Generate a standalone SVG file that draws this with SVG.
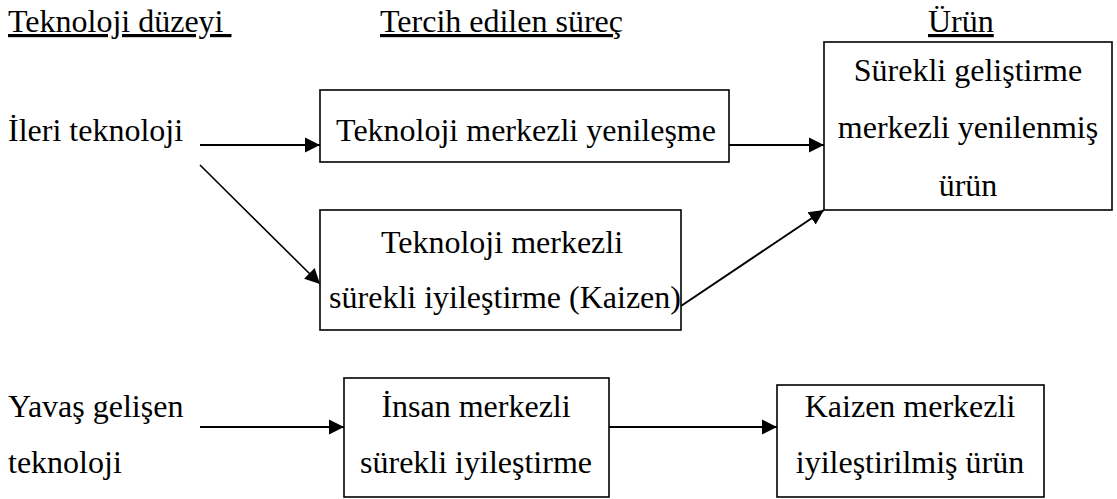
<svg xmlns="http://www.w3.org/2000/svg" width="1117" height="499" viewBox="0 0 1117 499">
<style>
text{font-family:"Liberation Serif","Times New Roman",serif;font-size:32px;fill:#000}
.c{text-anchor:middle}
.u{text-decoration:underline;white-space:pre}
.box{fill:#fff;stroke:#000;stroke-width:1.6}
.arr{stroke:#000;stroke-width:2;fill:none;marker-end:url(#ah)}
.thin{stroke-width:1.6}
</style>
<defs>
<marker id="ah" markerUnits="userSpaceOnUse" markerWidth="16" markerHeight="16" viewBox="0 0 16 15" refX="15" refY="7.5" orient="auto">
<path d="M0,0 L15,7.5 L0,15 Z" fill="#000"/>
</marker>
</defs>
<rect width="1117" height="499" fill="#fff"/>
<g id="headers">
<text class="u" x="8" y="32" xml:space="preserve">Teknoloji düzeyi </text>
<text class="u" x="380" y="32">Tercih edilen süreç</text>
<text class="u" x="928" y="32">Ürün</text>
</g>
<g id="ileri">
<text x="8" y="141">İleri teknoloji</text>
</g>
<g id="yavas">
<text x="8" y="417">Yavaş gelişen</text>
<text x="8" y="473">teknoloji</text>
</g>
<g id="box1">
<rect class="box" x="320" y="90" width="409" height="72"/>
<text class="c" x="526" y="141">Teknoloji merkezli yenileşme</text>
</g>
<g id="box2">
<rect class="box" x="320" y="210" width="361" height="120"/>
<text class="c" x="502" y="253">Teknoloji merkezli</text>
<text class="c" x="505" y="308">sürekli iyileştirme (Kaizen)</text>
</g>
<g id="product">
<rect class="box" x="824" y="42" width="288" height="168"/>
<text class="c" x="968" y="81">Sürekli geliştirme</text>
<text class="c" x="968" y="138">merkezli yenilenmiş</text>
<text class="c" x="968" y="196">ürün</text>
</g>
<g id="box3">
<rect class="box" x="344" y="378" width="265" height="119"/>
<text class="c" x="476" y="417">İnsan merkezli</text>
<text class="c" x="476" y="473">sürekli iyileştirme</text>
</g>
<g id="box4">
<rect class="box" x="777" y="385" width="267" height="112"/>
<text class="c" x="910" y="417">Kaizen merkezli</text>
<text class="c" x="910" y="473">iyileştirilmiş ürün</text>
</g>
<g id="connectors">
<line class="arr" x1="200" y1="145" x2="320" y2="145"/>
<line class="arr thin" x1="200" y1="165" x2="320" y2="284"/>
<line class="arr" x1="729" y1="145" x2="824" y2="145"/>
<line class="arr" x1="681" y1="306" x2="824" y2="210"/>
<line class="arr" x1="200" y1="427" x2="344" y2="427"/>
<line class="arr" x1="609" y1="427" x2="777" y2="427"/>
</g>
</svg>
